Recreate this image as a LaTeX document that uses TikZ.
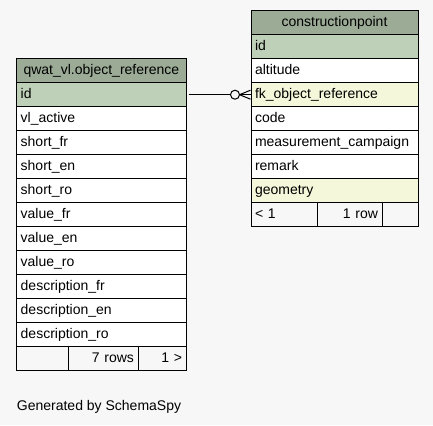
\documentclass[tikz,border=0pt]{standalone}
\usepackage{fontspec}
\setmainfont{Liberation Sans}
\definecolor{headgreen}{HTML}{9BAB96}
\definecolor{keygreen}{HTML}{BED1B8}
\definecolor{fkyellow}{HTML}{F4F7DA}
\definecolor{pagegray}{HTML}{F7F7F7}
\tikzset{
cell/.style={draw=black, line width=1pt, fill=white, minimum height=24pt, inner xsep=4pt, inner ysep=0pt,
 text height=10pt, text depth=3.3pt, font=\fontsize{14}{16}\selectfont},
lrow/.style={cell, text width=161.3pt, align=left},
rrow/.style={cell, text width=159pt, align=left},
lhead/.style={lrow, fill=headgreen, align=center},
rhead/.style={rrow, fill=headgreen, align=center},
foot/.style={cell, fill=pagegray, text width=#1, align=right}
}
\begin{document}
\begin{tikzpicture}[x=1pt,y=-1pt]
\fill[pagegray] (0,0) rectangle (433,425);
\useasboundingbox (0,0) rectangle (433,425);
\node[lhead] (lhead) at (101.35,70.7) {qwat\_vl.object\_reference};
\node[lrow, fill=keygreen] (lid) at (101.35,94.7) {id};
\node[lrow] (lvlactive) at (101.35,118.7) {vl\_active};
\node[lrow] (lshortfr) at (101.35,142.7) {short\_fr};
\node[lrow] (lshorten) at (101.35,166.7) {short\_en};
\node[lrow] (lshortro) at (101.35,190.7) {short\_ro};
\node[lrow] (lvaluefr) at (101.35,214.7) {value\_fr};
\node[lrow] (lvalueen) at (101.35,238.7) {value\_en};
\node[lrow] (lvaluero) at (101.35,262.7) {value\_ro};
\node[lrow] (ldescfr) at (101.35,286.7) {description\_fr};
\node[lrow] (ldescen) at (101.35,310.7) {description\_en};
\node[lrow] (ldescro) at (101.35,334.7) {description\_ro};
\node[foot=44pt] (lfoota) at (42.7,358.7) {};
\node[foot=61.3pt] (lfootb) at (103.35,358.7) {7 rows};
\node[foot=40pt] (lfootc) at (162,358.7) {1 >};
\node[rhead] (rhead) at (334.5,22.7) {constructionpoint};
\node[rrow, fill=keygreen] (rid) at (334.5,46.7) {id};
\node[rrow] (raltitude) at (334.5,70.7) {altitude};
\node[rrow, fill=fkyellow] (rfk) at (334.5,94.7) {fk\_object\_reference};
\node[rrow] (rcode) at (334.5,118.7) {code};
\node[rrow] (rcampaign) at (334.5,142.7) {measurement\_campaign};
\node[rrow] (rremark) at (334.5,166.7) {remark};
\node[rrow, fill=fkyellow] (rgeometry) at (334.5,190.7) {geometry};
\node[foot=58.7pt, align=left] (rfoota) at (284.35,214.7) {< 1};
\node[foot=56.3pt] (rfootb) at (349.85,214.7) {1 row};
\node[foot=28pt] (rfootc) at (400,214.7) {};
\coordinate (crow) at ([xshift=-11pt]rfk.west);
\draw[line width=1pt] ([xshift=2pt]lid.east) -- ([xshift=-20pt]rfk.west);
\draw[line width=1pt, fill=pagegray] ([xshift=-15.5pt]rfk.west) circle[radius=4.5pt];
\draw[line width=1pt] (crow) -- (rfk.west);
\draw[line width=1pt] (crow) -- ([yshift=4.5pt]rfk.west);
\draw[line width=1pt] (crow) -- ([yshift=-4.5pt]rfk.west);
\node[anchor=base west, inner sep=0pt, font=\fontsize{14}{16}\selectfont] (credit) at (16.7,410) {Generated by SchemaSpy};
\end{tikzpicture}
\end{document}
